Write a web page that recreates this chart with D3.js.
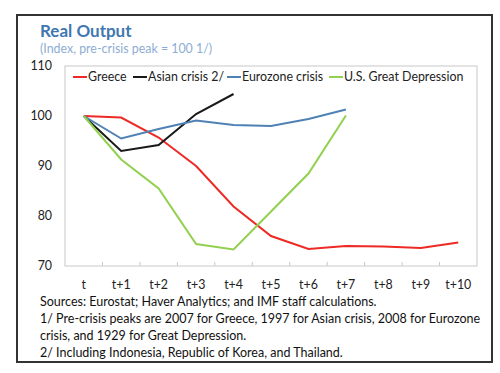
<!DOCTYPE html>
<html>
<head>
<meta charset="utf-8">
<script src="https://cdn.jsdelivr.net/npm/d3@7"></script>
<style>
  body { margin: 0; background: #fff; }
  svg { display: block; font-family: Lato, "Open Sans", sans-serif; }
</style>
</head>
<body>
<svg id="chart" width="500" height="373"></svg>
<script>
// periods on the x axis
const periods = ["t", "t+1", "t+2", "t+3", "t+4", "t+5", "t+6", "t+7", "t+8", "t+9", "t+10"];
const yTicks = [70, 80, 90, 100, 110];

// index values, pre-crisis peak = 100
const greece = [100, 99.7, 95.7, 90.0, 81.9, 76.0, 73.4, 74.0, 73.9, 73.6, 74.7];
const asian = [100, 93.0, 94.2, 100.4, 104.4];
const eurozone = [100, 95.5, 97.4, 99.1, 98.2, 98.0, 99.4, 101.3];
const greatDepression = [100, 91.3, 85.5, 74.4, 73.3, 80.9, 88.5, 100.1];

const seriesNames = ["Greece", "Asian crisis 2/", "Eurozone crisis", "U.S. Great Depression"];
const seriesValues = [greece, asian, eurozone, greatDepression];
const seriesColors = ["#ee2a24", "#1a1a1a", "#4f81b5", "#92d050"];

const notes = [
  "Sources: Eurostat; Haver Analytics; and IMF staff calculations.",
  "1/ Pre-crisis peaks are 2007 for Greece, 1997 for Asian crisis, 2008 for Eurozone",
  "crisis, and 1929 for Great Depression.",
  "2/ Including Indonesia, Republic of Korea, and Thailand."
];

const svg = d3.select("#chart");

// outer frame
svg.append("rect")
  .attr("x", 17).attr("y", 15)
  .attr("width", 475).attr("height", 347)
  .attr("fill", "none")
  .attr("stroke", "#333")
  .attr("stroke-width", 2);

svg.append("text")
  .attr("x", 40).attr("y", 37)
  .attr("font-size", 17).attr("font-weight", "bold")
  .attr("fill", "#3f77b0")
  .text("Real Output");

svg.append("text")
  .attr("x", 40).attr("y", 53)
  .attr("font-size", 12.4)
  .attr("fill", "#8eadd4")
  .text("(Index, pre-crisis peak = 100 1/)");

const margin = {left: 65, top: 66, right: 477, bottom: 266};

const x = d3.scaleBand()
  .domain(periods)
  .range([margin.left, margin.right]);

const y = d3.scaleLinear()
  .domain([70, 110])
  .range([margin.bottom, margin.top]);

// plot area frame
svg.append("rect")
  .attr("x", margin.left).attr("y", margin.top)
  .attr("width", margin.right - margin.left)
  .attr("height", margin.bottom - margin.top)
  .attr("fill", "none")
  .attr("stroke", "#c8c8c8")
  .attr("stroke-width", 1);

// y axis labels
svg.append("g")
  .selectAll("text")
  .data(yTicks)
  .join("text")
    .attr("x", 52)
    .attr("y", d => y(d) + 4)
    .attr("text-anchor", "end")
    .attr("font-size", 12.4)
    .attr("fill", "#222")
    .text(d => d);

// x tick marks between categories, pointing up
svg.append("g")
  .selectAll("line")
  .data(periods.slice(1))
  .join("line")
    .attr("x1", d => x(d)).attr("x2", d => x(d))
    .attr("y1", margin.bottom).attr("y2", margin.bottom - 4)
    .attr("stroke", "#c8c8c8");

svg.append("g")
  .selectAll("text")
  .data(periods)
  .join("text")
    .attr("x", d => x(d) + x.bandwidth() / 2)
    .attr("y", 289)
    .attr("text-anchor", "middle")
    .attr("font-size", 12.4)
    .attr("fill", "#222")
    .text(d => d);

// series lines
const line = d3.line()
  .x((d, i) => x(periods[i]) + x.bandwidth() / 2)
  .y(d => y(d));

svg.append("g")
  .selectAll("path")
  .data(seriesValues)
  .join("path")
    .attr("d", d => line(d))
    .attr("fill", "none")
    .attr("stroke", (d, i) => seriesColors[i])
    .attr("stroke-width", 2);

// legend
const legendX = [73, 133, 227, 329];
const legend = svg.append("g")
  .selectAll("g")
  .data(seriesNames)
  .join("g")
    .attr("transform", (d, i) => `translate(${legendX[i]}, 77)`);

legend.append("line")
  .attr("x1", 0).attr("x2", 14)
  .attr("stroke", (d, i) => seriesColors[i])
  .attr("stroke-width", 2);

legend.append("text")
  .attr("x", 15).attr("y", 4)
  .attr("font-size", 12.4)
  .attr("fill", "#222")
  .text(d => d);

// notes
svg.append("g")
  .selectAll("text")
  .data(notes)
  .join("text")
    .attr("x", 40)
    .attr("y", (d, i) => 306 + i * 17)
    .attr("font-size", 12.5)
    .attr("fill", "#111")
    .text(d => d);
</script>
</body>
</html>
